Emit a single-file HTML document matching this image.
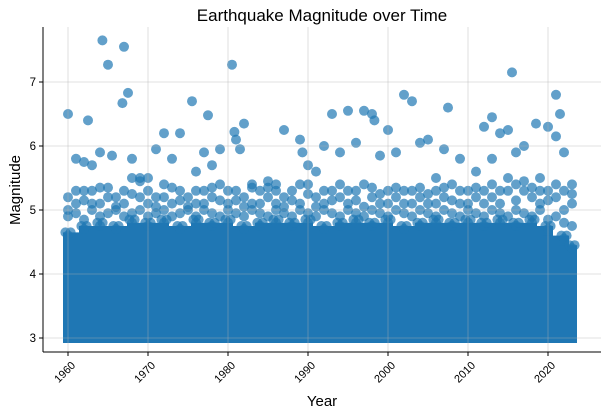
<!DOCTYPE html>
<html><head><meta charset="utf-8"><style>
html,body{margin:0;padding:0;background:#fff}
svg{display:block;font-family:"Liberation Sans","DejaVu Sans",sans-serif}
</style></head><body>
<svg id="chart" width="607" height="415" viewBox="0 0 607 415">
<text x="322" y="21" text-anchor="middle" font-size="17" fill="#000">Earthquake Magnitude over Time</text>
<g id="plot"></g>
<g id="axes"></g>
<text x="322" y="406" text-anchor="middle" font-size="15">Year</text>
<text x="20" y="190" text-anchor="middle" font-size="15" transform="rotate(-90 20 190)">Magnitude</text>
</svg>
<script>
const xTicks=[1960,1970,1980,1990,2000,2010,2020];
const yTicks=[3,4,5,6,7];
const bandYears=[1960,1962,1964,1966,1968,1970,1972,1974,1976,1978,1980,1982,1984,1986,1988,1990,1992,1994,1996,1998,2000,2002,2004,2006,2008,2010,2012,2014,2016,2018,2020,2022,2023];
const bandTop=[4.65,4.75,4.8,4.75,4.85,4.8,4.85,4.75,4.85,4.8,4.85,4.75,4.8,4.85,4.8,4.85,4.75,4.8,4.85,4.8,4.85,4.75,4.8,4.85,4.8,4.85,4.8,4.85,4.8,4.85,4.75,4.6,4.45];
const midYears=[1960,1961,1962,1963,1964,1965,1966,1967,1968,1969,1970,1971,1972,1973,1974,1975,1976,1977,1978,1979,1980,1981,1982,1983,1984,1985,1986,1987,1988,1989,1990,1991,1992,1993,1994,1995,1996,1997,1998,1999,2000,2001,2002,2003,2004,2005,2006,2007,2008,2009,2010,2011,2012,2013,2014,2015,2016,2017,2018,2019,2020,2021,2022,2023];
const midA=[5.0,5.1,5.3,5.1,5.35,5.2,5.0,5.3,5.5,5.2,5.1,5.2,5.4,5.1,5.3,5.2,5.1,5.3,5.2,5.4,5.1,5.3,5.2,5.1,5.3,5.2,5.1,5.2,5.3,5.1,5.4,5.2,5.1,5.3,5.2,5.1,5.3,5.4,5.2,5.1,5.3,5.2,5.1,5.3,5.2,5.1,5.3,5.2,5.4,5.1,5.3,5.2,5.1,5.4,5.3,5.5,5.4,5.3,5.2,5.1,5.3,5.2,5.0,5.1];
const midB=[5.2,5.3,5.15,5.3,5.1,5.35,5.2,5.1,5.25,5.45,5.3,5.05,5.2,5.35,5.15,5.05,5.3,5.1,5.35,5.15,5.3,5.15,5.05,5.35,5.1,5.35,5.3,5.05,5.15,5.4,5.25,5.05,5.3,5.15,5.4,5.3,5.15,5.05,5.35,5.25,5.1,5.35,5.3,5.1,5.35,5.25,5.1,5.35,5.15,5.3,5.1,5.35,5.3,5.2,5.1,5.3,5.15,5.45,5.35,5.3,5.15,5.4,5.3,5.25];
const midC=[4.9,4.95,4.85,5.0,4.9,4.95,5.05,4.9,4.95,5.0,4.9,4.95,5.0,4.9,4.95,5.0,4.9,5.0,4.95,4.9,5.0,4.95,4.9,5.0,4.95,4.9,5.0,4.95,4.9,5.0,4.95,4.9,5.0,4.95,4.9,5.0,4.95,4.9,5.0,4.95,4.9,5.0,4.95,4.9,5.0,4.95,4.9,5.0,4.95,4.9,5.0,4.95,4.9,5.0,4.95,4.9,5.0,4.95,4.9,5.0,4.85,4.9,4.8,4.75];
const outX=[1960,1962.5,1964.3,1965,1967,1967.5,1966.8,1961,1962,1963,1964,1965.5,1968,1969,1971,1972,1973,1974,1975.5,1977,1977.5,1978,1979,1980.5,1980.8,1981,1982,1981.5,1983,1985,1987,1989,1989.3,1990,1992,1993,1994,1995,1996,1997,1998,1998.3,1999,2000,2001,2002,2003,2004,2005,2007,2007.5,2009,2012,2013,2014,2015,2015.5,2016,2017,2018.5,2020,2021,2021.5,2022,2021,2023,2013,2019,1970,1976,1986,1991,2006,2011];
const outY=[6.5,6.4,7.65,7.27,7.55,6.83,6.67,5.8,5.75,5.7,5.9,5.85,5.8,5.5,5.95,6.2,5.8,6.2,6.7,5.9,6.48,5.7,5.95,7.27,6.22,6.1,6.35,5.95,5.4,5.45,6.25,6.1,5.9,5.7,6.0,6.5,5.9,6.55,6.05,6.55,6.5,6.4,5.85,6.25,5.9,6.8,6.7,6.05,6.1,5.95,6.6,5.8,6.3,6.45,6.2,6.25,7.15,5.9,6.0,6.35,6.3,6.8,6.5,5.9,6.15,5.4,5.8,5.5,5.5,5.6,5.4,5.6,5.5,5.6];

const L=43,R=601,T=27,B=352;
const xs=y=>68+(y-1960)*8;
const ys=m=>338-(m-3)*64;
const NS="http://www.w3.org/2000/svg";
const plot=document.getElementById('plot'),axes=document.getElementById('axes');
function mk(t,a,p){const e=document.createElementNS(NS,t);for(const k in a)e.setAttribute(k,a[k]);p.appendChild(e);return e;}
const C="#1f77b4";
for(let i=0;i<bandYears.length-1;i++){
  const x0=xs(bandYears[i])-5,x1=xs(bandYears[i+1])+5,top=ys(Math.min(bandTop[i],bandTop[i+1]));
  const r=mk('rect',{x:x0,y:top,width:x1-x0,height:ys(3)+5-top,fill:C},plot);
  
  
}
for(let i=0;i<bandYears.length;i++){
  for(let k=0;k<3;k++){
    const c=mk('circle',{cx:xs(bandYears[i])+k*2.6-2.6,cy:ys(bandTop[i])+(k%2)*3,r:5,fill:C,'fill-opacity':0.7},plot);
    
    
  }
}
for(let i=0;i<midYears.length;i++){
  for(const v of [midA[i],midB[i],midC[i]]){
    const c=mk('circle',{cx:xs(midYears[i]),cy:ys(v),r:5,fill:C,'fill-opacity':0.7},plot);
    
    
  }
}
for(let i=0;i<outX.length;i++){
  const c=mk('circle',{cx:xs(outX[i]),cy:ys(outY[i]),r:5,fill:C,'fill-opacity':0.7},plot);
  
  
}
xTicks.forEach(t=>{const g=mk('line',{x1:xs(t),x2:xs(t),y1:T,y2:B,stroke:'#b0b0b0','stroke-opacity':0.5,'stroke-width':0.8},axes);
  });
yTicks.forEach(t=>{const g=mk('line',{x1:L,x2:R,y1:ys(t),y2:ys(t),stroke:'#b0b0b0','stroke-opacity':0.5,'stroke-width':0.8},axes);
  });
const s1=mk('line',{x1:L,x2:L,y1:T,y2:B,stroke:'#000','stroke-width':1},axes);

const s2=mk('line',{x1:L,x2:R,y1:B,y2:B,stroke:'#000','stroke-width':1},axes);

xTicks.forEach(t=>{
  mk('line',{x1:xs(t),x2:xs(t),y1:B,y2:B+4,stroke:'#000'},axes);
  const px=xs(t)+8,py=B+14;
  const tx=mk('text',{x:px,y:py,'font-size':11,'text-anchor':'end',transform:`rotate(-45 ${px} ${py})`},axes);
  tx.textContent=t;
  
  
});
yTicks.forEach(t=>{
  mk('line',{x1:L-4,x2:L,y1:ys(t),y2:ys(t),stroke:'#000'},axes);
  const tx=mk('text',{x:L-7,y:ys(t)+4,'font-size':11.5,'text-anchor':'end'},axes);
  tx.textContent=t;
  
  
});
</script>
</body></html>
